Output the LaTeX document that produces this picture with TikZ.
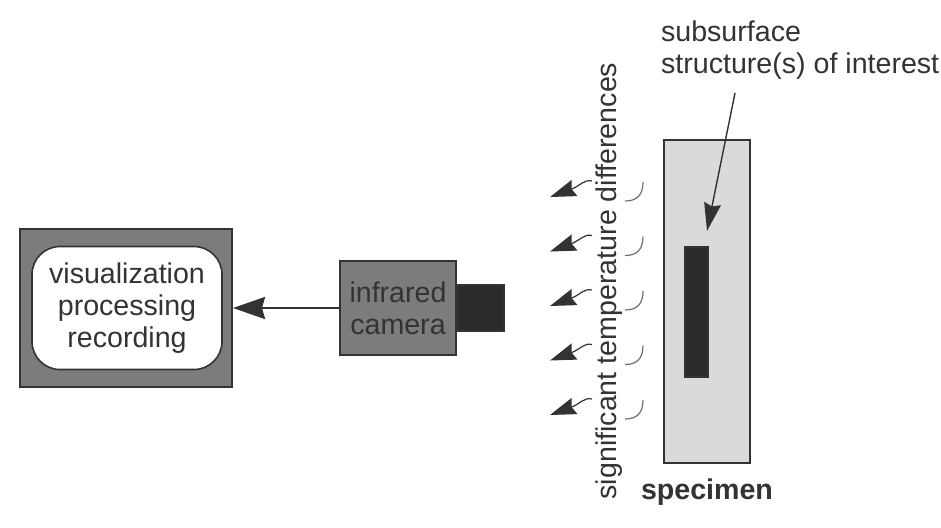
\documentclass[tikz,border=0pt]{standalone}
\usepackage{fontspec}
\setmainfont{Liberation Sans}
\usetikzlibrary{arrows.meta,positioning}

\definecolor{ink}{HTML}{333333}
\definecolor{housing}{HTML}{7C7C7C}
\definecolor{lensgray}{HTML}{2B2B2B}
\definecolor{plate}{HTML}{DADADA}

\begin{document}
\begin{tikzpicture}[x=0.5pt,y=-0.5pt,
  every node/.style={font=\fontsize{14.3}{15.8}\selectfont, text=ink},
  box/.style={draw=ink, line width=1pt, inner sep=0pt},
  bigtip/.style={-{Stealth[length=16pt,width=11pt,inset=1.5pt]}, draw=ink, line width=1.3pt},
  pointtip/.style={-{Stealth[length=14pt,width=8.5pt,inset=1.5pt]}, draw=ink, line width=0.7pt},
  heattip/.style={-{Stealth[length=13pt,width=8.5pt,inset=1.5pt]}, draw=ink, line width=0.6pt},
  ripple/.style={draw=ink!70, line width=0.6pt}]
  \useasboundingbox (0,0) rectangle (941,527);

  % monitor with the processing unit
  \node[box, fill=housing, minimum width=106pt, minimum height=79pt] (monitor) at (126,308) {};
  \node[draw=ink, line width=0.8pt, fill=white, rounded corners=14pt,
        minimum width=95pt, minimum height=61.5pt, align=center] (screen) at (127,308)
        {visualization\\processing\\recording};

  % camera
  \node[box, fill=housing, minimum width=58pt, minimum height=47pt, align=center] (camera) at (398,308)
        {infrared\\camera};
  \node[box, fill=lensgray, minimum size=23pt, right=0pt of camera] (lens) {};
  \draw[bigtip] (camera.west) -- (monitor.east);

  % specimen with the hidden defect
  \node[box, fill=plate, minimum width=43pt, minimum height=161.5pt] (specimen) at (707,301.5) {};
  \node[box, fill=lensgray, minimum width=11.5pt, minimum height=65pt] (flaw) at (696.5,312) {};
  \node[font=\fontsize{14.3}{15.8}\selectfont\bfseries, below=4pt of specimen] (name) {specimen};
  \node[anchor=north west, align=left] (interest) at (654,14) {subsurface\\structure(s) of interest};
  \coordinate (pointer) at (735,93);
  \coordinate (flawtop) at (707,231);
  \draw[pointtip] (pointer) -- (flawtop);

  % emitted heat
  \node[rotate=90] (temps) at (609,281) {significant temperature differences};
  \foreach \i in {0,...,4} {
    \coordinate (src\i) at (592,{181+54.5*\i});
    \coordinate (dst\i) at (550,{197+54.5*\i});
    \draw[heattip] (src\i) .. controls (584,{179+54.5*\i}) and (580,{186+54.5*\i}) .. (dst\i);
    \draw[ripple] (643,{182+54.5*\i}) .. controls (643,{195+54.5*\i}) and (637,{201+54.5*\i}) .. (625,{201+54.5*\i});
  }
\end{tikzpicture}
\end{document}
